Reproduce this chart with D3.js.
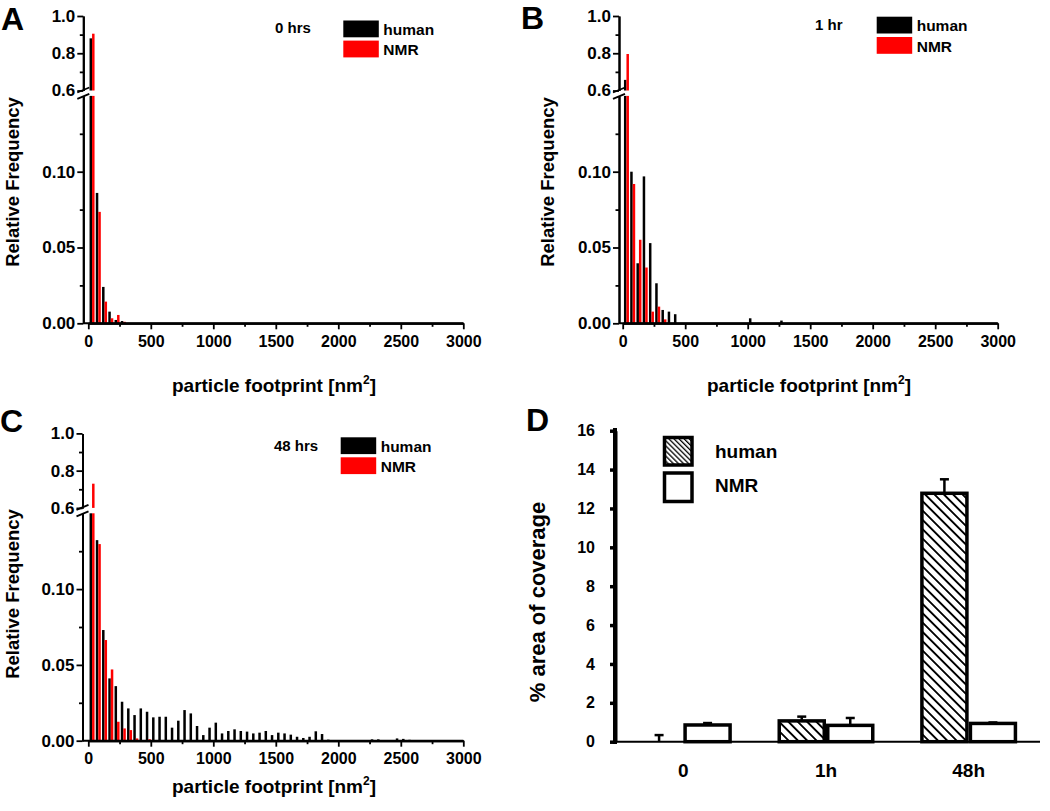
<!DOCTYPE html>
<html><head><meta charset="utf-8">
<script src="https://cdn.jsdelivr.net/npm/d3@7"></script>
<style>body{margin:0;background:#fff}svg{display:block}text{font-family:"Liberation Sans",Arial,sans-serif}</style>
</head><body>
<script>
// ---- DATA ----
const binWidth = 50;
const xTicks = [0, 500, 1000, 1500, 2000, 2500, 3000];
const xMinorTicks = [250, 750, 1250, 1750, 2250, 2750];
const yLowTicks = [0, 0.05, 0.10];
const yLowMinor = [0.025, 0.075, 0.125];
const yHighTicks = [0.6, 0.8, 1.0];
const yHighMinor = [0.7, 0.9];

// [bin start (nm^2), relative frequency]
const humanA = [[0,0.88],[50,0.086],[100,0.024],[150,0.0077],[200,0.0022],[250,0.0015]];
const nmrA   = [[0,0.905],[50,0.0735],[100,0.0143],[150,0.0033],[200,0.0055],[250,0.001]];

const humanB = [[0,0.657],[50,0.100],[100,0.0396],[150,0.0969],[200,0.0529],[250,0.0264],[300,0.0088],[350,0.0077],[400,0.006],[1000,0.0033],[1250,0.0018]];
const nmrB   = [[0,0.796],[50,0.0919],[100,0.0551],[150,0.0368],[200,0.0077],[250,0.011],[300,0.0026]];

const humanC = [[0,0.5],[50,0.1323],[100,0.073],[150,0.0411],[200,0.036],[250,0.0257],[300,0.0213],[350,0.0169],
  [400,0.0213],[450,0.0191],[500,0.0154],[550,0.0158],[600,0.0158],[650,0.0086],[700,0.0132],[750,0.0202],
  [800,0.018],[850,0.0097],[900,0.0037],[950,0.0086],[1000,0.0119],[1050,0.0048],[1100,0.0064],[1150,0.0075],
  [1200,0.0064],[1250,0.006],[1300,0.0048],[1350,0.0053],[1400,0.0064],[1450,0.0037],[1500,0.0053],[1550,0.0048],
  [1600,0.004],[1650,0.0026],[1700,0.0018],[1750,0.0026],[1800,0.0062],[1850,0.0044],[1900,0.0007],
  [2250,0.0009],[2300,0.0009],[2450,0.0015],[2500,0.0012],[2550,0.0006]];
const nmrC   = [[0,0.73],[50,0.1297],[100,0.0664],[150,0.047],[200,0.0125],[250,0.0081],[300,0.007],[350,0.0015],[450,0.001]];

const groupsD = ["0", "1h", "48h"];
const humanD = [0.0, 1.07, 12.78];
const humanErrD = [0.34, 0.22, 0.72];
const nmrD = [0.86, 0.84, 0.94];
const nmrErrD = [0.1, 0.38, 0.05];
const yTicksD = [0, 2, 4, 6, 8, 10, 12, 14, 16];

// ---- DRAW ----
const svg = d3.select("body").append("svg").attr("width", 1050).attr("height", 811);
const defs = svg.append("defs");
function hatch(id, sp, w) {
  const p = defs.append("pattern").attr("id", id).attr("patternUnits", "userSpaceOnUse")
    .attr("width", sp).attr("height", sp).attr("patternTransform", "rotate(-45)");
  p.append("rect").attr("width", sp).attr("height", sp).attr("fill", "#fff");
  p.append("rect").attr("x", 0).attr("y", 0).attr("width", w).attr("height", sp).attr("fill", "#000");
}
hatch("hatchBar", 6.6, 1.9);
hatch("hatchLeg", 3.6, 1.3);

function hist(cfg) {
  const g = svg.append("g");
  const x = d3.scaleLinear().domain([0, 3000]).range([cfg.x0, cfg.x0 + 375]);
  const yLow = d3.scaleLinear().domain([0, 0.15]).range([cfg.yBase, cfg.yBase - 227.4]);
  const yHigh = d3.scaleLinear().domain([0.6, 1.0]).range([cfg.yBase - 232.8, cfg.yBase - 307.3]);

  function bars(data, color, f0, f1) {
    data.forEach(([s, v]) => {
      const xa = x(s + f0 * binWidth), xb = x(s + f1 * binWidth);
      const vl = Math.min(v, 0.15);
      g.append("rect").attr("x", xa).attr("width", xb - xa)
        .attr("y", yLow(vl)).attr("height", yLow(0) - yLow(vl)).attr("fill", color);
      if (v > 0.6) {
        g.append("rect").attr("x", xa).attr("width", xb - xa)
          .attr("y", yHigh(v)).attr("height", yHigh(0.6) - yHigh(v)).attr("fill", color);
      }
    });
  }
  bars(cfg.human, "#000", 0.2, 0.6);
  bars(cfg.nmr, "#ff0000", 0.6, 1.0);

  const font = s => sel => sel.selectAll("text").attr("font-size", s).attr("font-weight", "bold")
    .attr("font-family", '"Liberation Sans",Arial,sans-serif').attr("fill", "#000");
  const styleAx = sel => { sel.select(".domain").attr("stroke-width", 2); sel.selectAll(".tick line").attr("stroke-width", 1.8); };

  // y axes
  const gl = g.append("g").attr("transform", `translate(${cfg.ax},0)`)
    .call(d3.axisLeft(yLow).tickValues(yLowTicks).tickFormat(d3.format(".2f")).tickSize(6).tickSizeOuter(0).tickPadding(2));
  gl.call(font(17)).call(styleAx);
  g.append("g").attr("transform", `translate(${cfg.ax},0)`)
    .call(d3.axisLeft(yLow).tickValues(yLowMinor).tickFormat("").tickSize(3.5).tickSizeOuter(0))
    .call(styleAx);
  const gh = g.append("g").attr("transform", `translate(${cfg.ax},0)`)
    .call(d3.axisLeft(yHigh).tickValues(yHighTicks).tickFormat(d3.format(".1f")).tickSize(6).tickSizeOuter(0).tickPadding(2));
  gh.call(font(17)).call(styleAx);
  g.append("g").attr("transform", `translate(${cfg.ax},0)`)
    .call(d3.axisLeft(yHigh).tickValues(yHighMinor).tickFormat("").tickSize(3.5).tickSizeOuter(0))
    .call(styleAx);
  // break marks
  const ym1 = yHigh(0.6), ym2 = yLow(0.15);
  [ym1 - 0.5, ym2 + 0.5].forEach(yy => {
    g.append("line").attr("x1", cfg.ax - 6).attr("y1", yy + 2.5).attr("x2", cfg.ax + 6).attr("y2", yy - 2.5)
      .attr("stroke", "#000").attr("stroke-width", 1.8);
  });

  // x axis
  g.append("line").attr("x1", cfg.ax).attr("x2", cfg.x0 + 375).attr("y1", cfg.yBase).attr("y2", cfg.yBase)
    .attr("stroke", "#000").attr("stroke-width", 2);
  const gx = g.append("g").attr("transform", `translate(0,${cfg.yBase})`)
    .call(d3.axisBottom(x).tickValues(xTicks).tickFormat(d3.format("d")).tickSize(6).tickSizeOuter(0).tickPadding(6));
  gx.call(font(16)).call(styleAx);
  g.append("g").attr("transform", `translate(0,${cfg.yBase})`)
    .call(d3.axisBottom(x).tickValues(xMinorTicks).tickFormat("").tickSize(3.5).tickSizeOuter(0))
    .call(styleAx);

  // labels
  g.append("text").attr("transform", `translate(${cfg.ylabX},${cfg.ylabY}) rotate(-90)`)
    .attr("text-anchor", "middle").attr("font-size", 18.5).attr("font-weight", "bold").text("Relative Frequency");
  const xl = g.append("text").attr("x", cfg.xlabX).attr("y", cfg.xlabY).attr("text-anchor", "middle")
    .attr("font-size", 19).attr("font-weight", "bold");
  xl.append("tspan").text("particle footprint [nm");
  xl.append("tspan").attr("font-size", 12).attr("dy", -8).text("2");
  xl.append("tspan").attr("dy", 8).text("]");

  g.append("text").attr("x", cfg.letterX).attr("y", cfg.letterY).attr("font-size", 32).attr("font-weight", "bold").text(cfg.letter);

  // legend
  const L = cfg.leg;
  g.append("text").attr("x", L.tx).attr("y", L.ty).attr("font-size", 15).attr("font-weight", "bold").text(cfg.time);
  g.append("rect").attr("x", L.bx).attr("y", L.by1).attr("width", 35.5).attr("height", 16.8).attr("fill", "#000");
  g.append("rect").attr("x", L.bx).attr("y", L.by2).attr("width", 35.5).attr("height", 16.8).attr("fill", "#ff0000");
  g.append("text").attr("x", L.bx + 40).attr("y", L.by1 + 14.5).attr("font-size", 15.5).attr("font-weight", "bold").text("human");
  g.append("text").attr("x", L.bx + 40).attr("y", L.by2 + 14.5).attr("font-size", 15.5).attr("font-weight", "bold").text("NMR");
}

hist({ human: humanA, nmr: nmrA, ax: 83.3, x0: 88.3, yBase: 323.3, letter: "A", letterX: 1, letterY: 30,
  ylabX: 19, ylabY: 182, xlabX: 274, xlabY: 392, time: "0 hrs",
  leg: { tx: 275, ty: 33, bx: 343.3, by1: 20.5, by2: 40.6 } });
hist({ human: humanB, nmr: nmrB, ax: 619, x0: 622.7, yBase: 323.3, letter: "B", letterX: 521, letterY: 29,
  ylabX: 554, ylabY: 182, xlabX: 809, xlabY: 392, time: "1 hr",
  leg: { tx: 815, ty: 30, bx: 876.7, by1: 16.7, by2: 37 } });
hist({ human: humanC, nmr: nmrC, ax: 82.5, x0: 88.3, yBase: 740.7, letter: "C", letterX: 0, letterY: 432,
  ylabX: 19, ylabY: 594, xlabX: 274, xlabY: 793, time: "48 hrs",
  leg: { tx: 274, ty: 451, bx: 340.7, by1: 437.3, by2: 457.3 } });

// ---- Panel D ----
(function () {
  const g = svg.append("g");
  const y = d3.scaleLinear().domain([0, 16]).range([741.7, 430.7]);
  const x = d3.scaleBand().domain(groupsD).range([612, 1040]).paddingInner(0.32).paddingOuter(0.16);
  const sub = d3.scaleBand().domain(["human", "NMR"]).range([0, x.bandwidth()]);

  const series = [
    { key: "human", vals: humanD, errs: humanErrD, fill: "url(#hatchBar)" },
    { key: "NMR", vals: nmrD, errs: nmrErrD, fill: "#fff" }
  ];
  series.forEach(s => {
    groupsD.forEach((c, i) => {
      const v = s.vals[i], e = s.errs[i];
      const bx = x(c) + sub(s.key), bw = sub.bandwidth();
      const cx = bx + bw / 2;
      if (e > 0) {
        g.append("line").attr("x1", cx).attr("x2", cx).attr("y1", y(v)).attr("y2", y(v + e))
          .attr("stroke", "#000").attr("stroke-width", 2.5);
        g.append("line").attr("x1", cx - 4.5).attr("x2", cx + 4.5).attr("y1", y(v + e)).attr("y2", y(v + e))
          .attr("stroke", "#000").attr("stroke-width", 2.5);
      }
      if (v > 0.05) {
        g.append("rect").attr("x", bx + 1.75).attr("y", y(v)).attr("width", bw - 3.5).attr("height", y(0) - y(v))
          .attr("fill", s.fill).attr("stroke", "#000").attr("stroke-width", 3.5);
      }
    });
  });

  // axes
  g.append("line").attr("x1", 615).attr("x2", 1040).attr("y1", y(0)).attr("y2", y(0)).attr("stroke", "#000").attr("stroke-width", 2);
  const ya = g.append("g").attr("transform", "translate(615,0)")
    .call(d3.axisLeft(y).tickValues(yTicksD).tickFormat(d3.format("d")).tickSize(5).tickSizeOuter(0).tickPadding(15));
  ya.select(".domain").attr("stroke-width", 4);
  ya.selectAll(".tick line").attr("stroke-width", 3.5);
  ya.selectAll("text").attr("font-size", 16).attr("font-weight", "bold").attr("fill", "#000")
    .attr("font-family", '"Liberation Sans",Arial,sans-serif');
  g.append("line").attr("x1", 615).attr("x2", 615).attr("y1", 428).attr("y2", 744).attr("stroke", "#000").attr("stroke-width", 4);

  groupsD.forEach(c => {
    g.append("text").attr("x", x(c) + x.bandwidth() / 2).attr("y", 777).attr("text-anchor", "middle")
      .attr("font-size", 19).attr("font-weight", "bold").text(c);
  });

  g.append("text").attr("transform", "translate(545,602) rotate(-90)").attr("text-anchor", "middle")
    .attr("font-size", 22).attr("font-weight", 600).attr("font-family", "Lato,sans-serif").text("% area of coverage");

  g.append("text").attr("x", 526).attr("y", 431).attr("font-size", 32).attr("font-weight", "bold").text("D");

  // legend
  g.append("rect").attr("x", 664.5).attr("y", 437.5).attr("width", 27.5).attr("height", 27.5)
    .attr("fill", "url(#hatchLeg)").attr("stroke", "#000").attr("stroke-width", 3.5);
  g.append("rect").attr("x", 664.5).attr("y", 473).attr("width", 27.5).attr("height", 28.5)
    .attr("fill", "#fff").attr("stroke", "#000").attr("stroke-width", 3.5);
  g.append("text").attr("x", 715).attr("y", 458).attr("font-size", 19).attr("font-weight", "bold").text("human");
  g.append("text").attr("x", 715).attr("y", 492).attr("font-size", 19).attr("font-weight", "bold").text("NMR");
})();
</script>
</body></html>
